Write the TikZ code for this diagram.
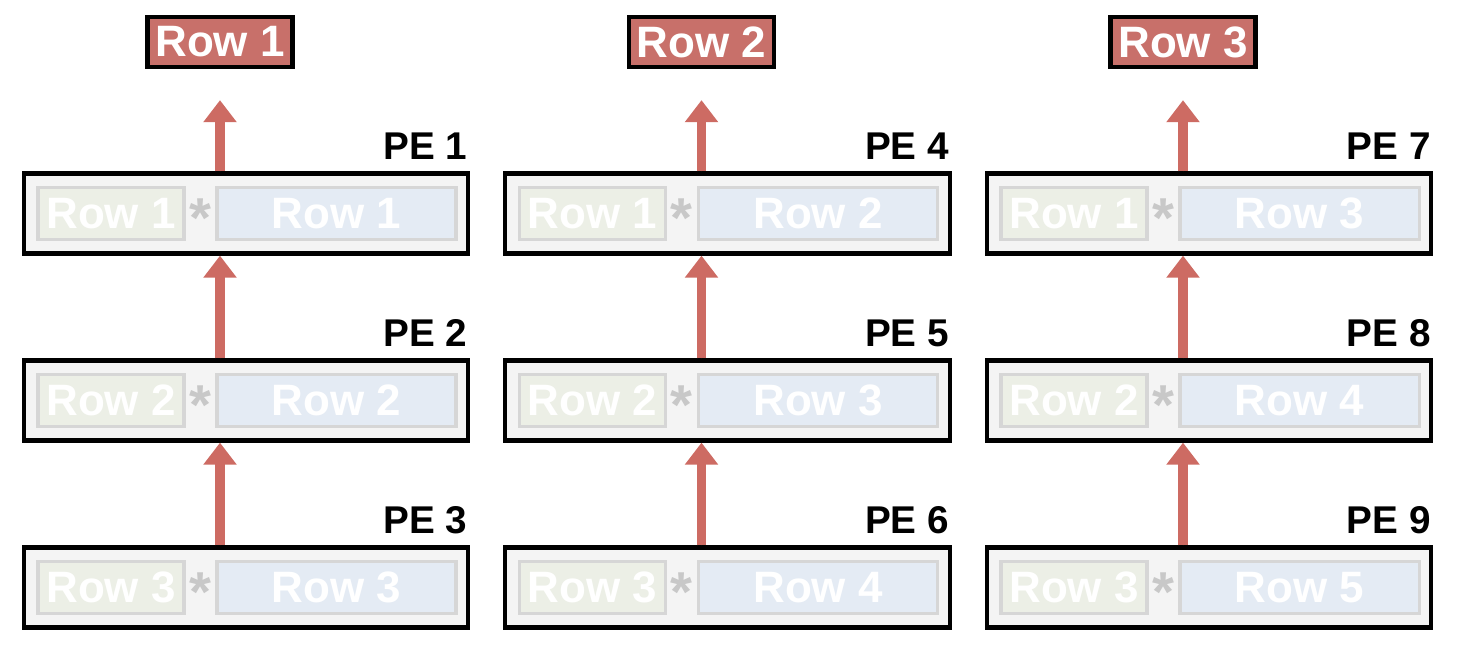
\documentclass[tikz,border=0pt]{standalone}
\usepackage{fontspec}
\setmainfont{Liberation Sans}
\usetikzlibrary{arrows.meta, shadows}
\definecolor{rowred}{HTML}{C8706A}
\definecolor{arrowred}{HTML}{CD6B63}
\definecolor{pegray}{HTML}{F4F4F4}
\definecolor{leftfill}{HTML}{ECEFE6}
\definecolor{rightfill}{HTML}{E4EBF4}
\definecolor{innerline}{HTML}{D6D6D6}
\definecolor{stargray}{HTML}{C8C8C8}
\tikzstyle{pebox} = [draw=black, line width=1.2pt, fill=pegray, minimum width=4.44cm, minimum height=0.8cm, inner sep=0pt, drop shadow={opacity=0.15, shadow xshift=0.4pt, shadow yshift=-0.4pt}]
\tikzstyle{leftrow} = [draw=innerline, line width=0.9pt, fill=leftfill, minimum width=1.46cm, minimum height=0.52cm, inner sep=0pt, text=white, font=\fontsize{12.5}{14}\selectfont\bfseries]
\tikzstyle{rightrow} = [leftrow, fill=rightfill, minimum width=2.39cm]
\tikzstyle{outbox} = [draw=black, line width=1.2pt, fill=rowred, minimum width=1.45cm, minimum height=0.5cm, inner sep=0pt, text=white, font=\fontsize{12.5}{14}\selectfont\bfseries, drop shadow={opacity=0.2, shadow xshift=0.4pt, shadow yshift=-0.4pt}]
\tikzstyle{pelabel} = [anchor=base east, inner sep=0pt, font=\fontsize{11}{12}\selectfont\bfseries]
\tikzstyle{arrow} = [line width=2.8pt, draw=arrowred, fill=arrowred, -{Triangle[width=0.32cm, length=0.22cm]}]

\begin{document}
\begin{tikzpicture}[x=0.01cm, y=-0.01cm]
	\useasboundingbox (0,0) rectangle (1461,660);
	\foreach \c in {0,1,2} {
		\pgfmathsetmacro\cx{246+481.5*\c}
		\pgfmathtruncatemacro\outn{\c+1}
		\node[outbox] (out\outn) at (\cx-26,42) {Row \outn};
		\foreach \r in {0,1,2} {
			\pgfmathtruncatemacro\pe{3*\c+\r+1}
			\pgfmathtruncatemacro\lr{\r+1}
			\pgfmathtruncatemacro\rr{\c+\r+1}
			\pgfmathsetmacro\cy{213.5+187*\r}
			\node[pebox] (pe\pe) at (\cx,\cy) {};
			\node[leftrow] (a\pe) at (\cx-135,\cy) {Row \lr};
			\node[rightrow] (b\pe) at (\cx+90.5,\cy) {Row \rr};
			\node[text=stargray, font=\fontsize{16}{16}\selectfont\bfseries, inner sep=0pt] (s\pe) at (\cx-46,\cy+5) {*};
			\node[pelabel] (l\pe) at ([xshift=-0.02cm, yshift=0.12cm]pe\pe.north east) {PE \pe};
		}
	}
	% partial sums flow up each column
	\foreach \c in {1,2,3} {
		\pgfmathtruncatemacro\ta{3*\c-2}
		\pgfmathtruncatemacro\tb{3*\c-1}
		\pgfmathtruncatemacro\tc{3*\c}
		\draw[arrow] (pe\ta.north -| out\c) -- ([yshift=-0.31cm]out\c.south);
		\draw[arrow] (pe\tb.north -| out\c) -- (pe\ta.south -| out\c);
		\draw[arrow] (pe\tc.north -| out\c) -- (pe\tb.south -| out\c);
	}
\end{tikzpicture}
\end{document}
